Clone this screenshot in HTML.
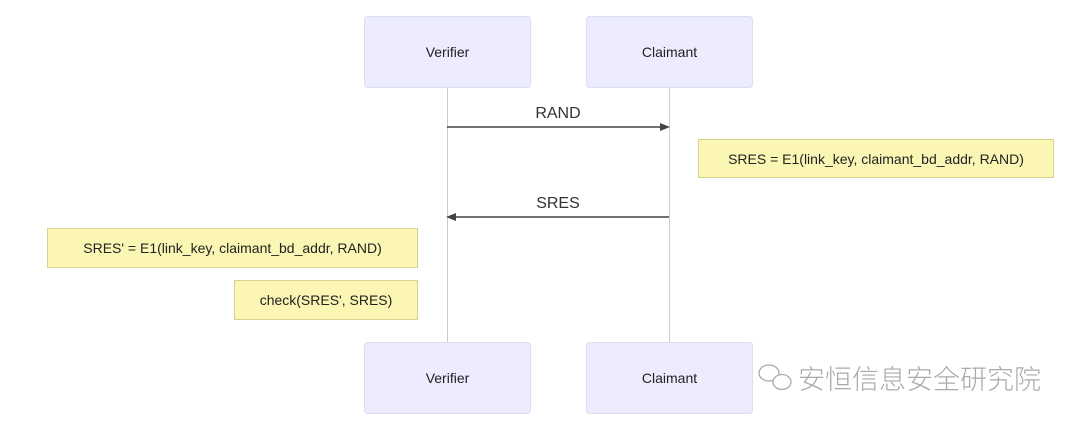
<!DOCTYPE html>
<html><head><style>
body{margin:0;width:1080px;height:428px;background:#fff;position:relative;overflow:hidden;font-family:"Liberation Sans",sans-serif}
.a{position:absolute;box-sizing:border-box;background:#ececfe;border:1px solid #dcdcf4;border-radius:4px;display:flex;align-items:center;justify-content:center;font-size:14px;color:#222}
.n{position:absolute;box-sizing:border-box;background:#fbf6b4;border:1px solid #d8d28a;display:flex;align-items:center;justify-content:center;font-size:14px;color:#222}
.l{position:absolute;width:1px;background:#ccc}
.t{position:absolute;font-size:16px;color:#333;width:200px;text-align:center}
</style></head><body>
<div class="l" style="left:447px;top:88px;height:254px"></div>
<div class="l" style="left:669px;top:88px;height:254px"></div>
<div class="a" style="left:364px;top:16px;width:167px;height:72px">Verifier</div>
<div class="a" style="left:586px;top:16px;width:167px;height:72px">Claimant</div>
<div class="a" style="left:364px;top:342px;width:167px;height:72px">Verifier</div>
<div class="a" style="left:586px;top:342px;width:167px;height:72px">Claimant</div>
<div class="t" style="left:458px;top:105px">RAND</div>
<div class="t" style="left:458px;top:195px">SRES</div>
<svg style="position:absolute;left:0;top:0" width="1080" height="428">
<line x1="447" y1="127" x2="664" y2="127" stroke="#444" stroke-width="1.5"/>
<polygon points="670,127 660,123 660,131" fill="#444"/>
<line x1="452" y1="217" x2="669" y2="217" stroke="#444" stroke-width="1.5"/>
<polygon points="446,217 456,213 456,221" fill="#444"/>
<g fill="#fff" stroke="#aaa" stroke-width="1.3">
<ellipse cx="769" cy="373" rx="10" ry="8"/>
<ellipse cx="782" cy="382" rx="9" ry="7.5"/>
</g>
</svg>
<div class="n" style="left:698px;top:139px;width:356px;height:39px">SRES = E1(link_key, claimant_bd_addr, RAND)</div>
<div class="n" style="left:47px;top:228px;width:371px;height:40px">SRES' = E1(link_key, claimant_bd_addr, RAND)</div>
<div class="n" style="left:234px;top:280px;width:184px;height:40px">check(SRES', SRES)</div>
<div style="position:absolute;left:798px;top:362px;font-size:27px;line-height:36px;color:#aaa;font-family:'Liberation Sans','Noto Sans CJK SC',sans-serif;font-weight:300">安恒信息安全研究院</div>
</body></html>
